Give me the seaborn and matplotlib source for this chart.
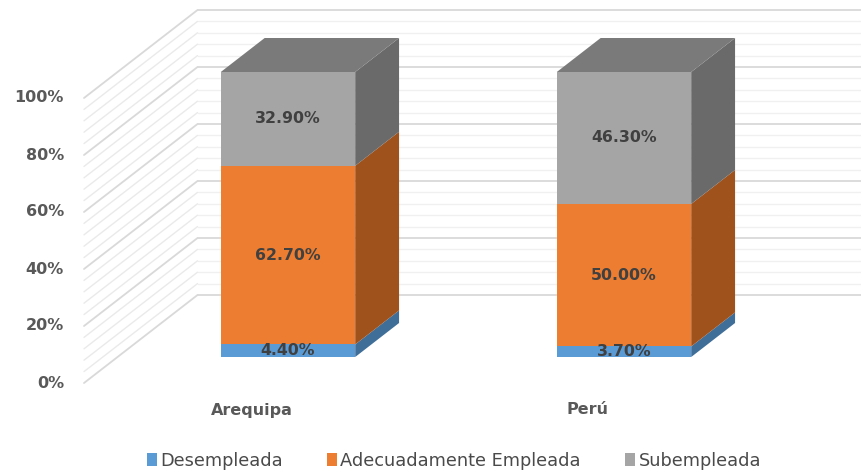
import numpy as np
import pandas as pd
import matplotlib
matplotlib.use("Agg")
import matplotlib.pyplot as plt
import seaborn as sns
from matplotlib.patches import Polygon, Patch

# ---- data ----
regions = ["Arequipa", "Perú"]
series = ["Desempleada", "Adecuadamente Empleada", "Subempleada"]
desempleada = [4.4, 3.7]
adecuada = [62.7, 50.0]
subempleada = [32.9, 46.3]
y_ticks = [0, 20, 40, 60, 80, 100]

front_colors = ["#5B9BD5", "#ED7D31", "#A5A5A5"]
side_colors = ["#3F6E98", "#A0521D", "#6A6A6A"]
top_color = "#7A7A7A"
text_color = "#404040"
tick_color = "#595959"

sns.set_theme(style="white")
plt.rcParams["font.family"] = ["DejaVu Sans"]

W, H = 861, 472
fig = plt.figure(figsize=(W / 100, H / 100), dpi=100)
ax = fig.add_axes([0, 0, 1, 1])

# ---- layout (pixels) ----
X0, XU = 288, 336      # px of first category centre, px per category step
Y0, YU = 357, 2.85     # px of 0% on bar front plane, px per percent
SLOPE = 1.29           # horizontal px per vertical px of depth
D_FLOOR, D_BACK_BAR, D_WALL = -26, 34, 62
WALL_FRONT_PX = 84


def dxp(px):
    return px / XU


def dyp(px):
    return px / YU


def depth(d):
    return dxp(d * SLOPE), dyp(d)


# ---- stacked front faces via seaborn ----
vals = np.array([desempleada, adecuada, subempleada])
cum = np.cumsum(vals, axis=0)
rows = []
for si in reversed(range(len(series))):
    for ri, r in enumerate(regions):
        rows.append({"Region": r, "Serie": series[si], "top": cum[si, ri]})
df = pd.DataFrame(rows)
sns.barplot(data=df, x="Region", y="top", hue="Serie", hue_order=series[::-1],
            dodge=False, palette=front_colors[::-1], width=0.4, saturation=1,
            linewidth=0, ax=ax, legend=False)
for p in ax.patches:
    p.set_zorder(5)

# ---- walls / gridlines ----
xmin, xmax = (0 - X0) / XU, (W - X0) / XU
wall_front_x = dxp(WALL_FRONT_PX - X0)
wall_back_x = wall_front_x + depth(D_WALL - D_FLOOR)[0]
for v in range(0, 101, 4):
    major = v % 20 == 0
    col_back = "#D9D9D9" if major else "#F0F0F0"
    col_side = "#D9D9D9" if major else "#EAEAEA"
    lw = 1.3 if major else 1.0
    yb = v + dyp(D_WALL)
    yf = v + dyp(D_FLOOR)
    ax.plot([wall_back_x, xmax], [yb, yb], color=col_back, lw=lw, zorder=1)
    ax.plot([wall_front_x, wall_back_x], [yf, yb], color=col_side, lw=lw, zorder=1)

# ---- 3D sides and tops ----
bw = 0.4
ddx, ddy = depth(D_BACK_BAR)
for ri in range(len(regions)):
    left, right = ri - bw / 2, ri + bw / 2
    lo = 0.0
    for si in range(len(series)):
        hi = cum[si, ri]
        poly = [(right, lo), (right + ddx, lo + ddy), (right + ddx, hi + ddy), (right, hi)]
        ax.add_patch(Polygon(poly, closed=True, facecolor=side_colors[si], edgecolor="none", zorder=4))
        lo = hi
    top = cum[-1, ri]
    poly = [(left, top), (right, top), (right + ddx, top + ddy), (left + ddx, top + ddy)]
    ax.add_patch(Polygon(poly, closed=True, facecolor=top_color, edgecolor="none", zorder=4))

# ---- data labels ----
for ri in range(len(regions)):
    for si in range(len(series)):
        yc = cum[si, ri] - vals[si, ri] / 2
        ax.text(ri, yc, f"{vals[si, ri]:.2f}%", ha="center", va="center",
                fontsize=11.3, fontweight="bold", color=text_color, zorder=6)

# ---- y tick labels ----
for v in y_ticks:
    ax.text(dxp(64 - X0), v + dyp(D_FLOOR), f"{v}%", ha="right", va="center",
            fontsize=11.5, fontweight="bold", color=tick_color)

# ---- category labels ----
for ri, r in enumerate(regions):
    ax.text(ri + dxp(-36), (Y0 - 410) / YU, r, ha="center", va="center",
            fontsize=11.5, fontweight="bold", color=tick_color)

ax.set_xlim(xmin, xmax)
ax.set_ylim((Y0 - H) / YU, Y0 / YU)
ax.axis("off")

handles = [Patch(facecolor=c, edgecolor="none") for c in front_colors]
fig.legend(handles, series, loc="center", bbox_to_anchor=(454 / W, 1 - 461 / H),
           ncol=3, frameon=False, handlelength=0.55, handleheight=0.75,
           handletextpad=0.2, columnspacing=2.5, fontsize=12.8,
           labelcolor="#4A4A4A")

fig.savefig("out.png", dpi=100)
